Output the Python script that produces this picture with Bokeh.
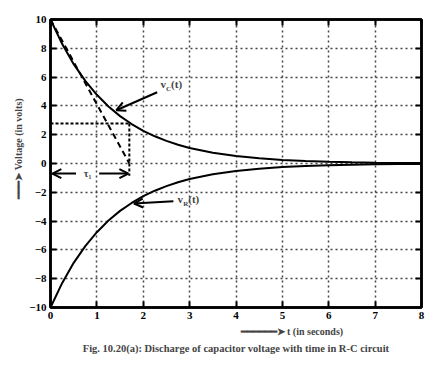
import math
from bokeh.plotting import figure
from bokeh.models import (FixedTicker, LinearAxis, Label, Arrow, OpenHead, ColumnDataSource, Title)
from bokeh.embed import file_html
from bokeh.resources import INLINE

# ---- data ----
t_vals = [0, 0.25, 0.5, 0.75, 1.0, 1.25, 1.5, 1.75, 2.0, 2.25, 2.5, 2.75, 3.0,
          3.5, 4.0, 4.5, 5.0, 5.5, 6.0, 6.5, 7.0, 7.5, 8.0]
vc_vals = [10, 8.31, 6.90, 5.74, 4.77, 3.96, 3.29, 2.74, 2.27, 1.89, 1.57, 1.30, 1.08,
           0.75, 0.52, 0.36, 0.25, 0.17, 0.12, 0.08, 0.056, 0.039, 0.027]
vr_vals = [-10, -8.31, -6.90, -5.74, -4.77, -3.96, -3.29, -2.74, -2.27, -1.89, -1.57, -1.30, -1.08,
           -0.75, -0.52, -0.36, -0.25, -0.17, -0.12, -0.08, -0.056, -0.039, -0.027]
x_ticks = [0, 1, 2, 3, 4, 5, 6, 7, 8]
y_ticks = [-10, -8, -6, -4, -2, 0, 2, 4, 6, 8, 10]
tau_t = 1.7
tau_v = 2.78
tangent_t = [0, 1.7]
tangent_v = [10, 0]

FONT = "Liberation Serif"

p = figure(width=438, height=364, x_range=(0, 8), y_range=(-10, 10),
           output_backend="svg", toolbar_location=None,
           min_border_left=50, min_border_right=17, min_border_top=19, min_border_bottom=57)
p.background_fill_color = "white"
p.border_fill_color = "white"
p.outline_line_color = "black"
p.outline_line_width = 2.5

def style_axis(ax, show_labels=True):
    ax.axis_line_width = 2.5
    ax.axis_line_color = "black"
    ax.major_tick_in = 6
    ax.major_tick_out = 0
    ax.major_tick_line_width = 2
    ax.minor_tick_line_color = None
    ax.major_label_text_font = FONT
    ax.major_label_text_font_style = "bold"
    if show_labels:
        ax.major_label_text_font_size = "11px"
        ax.major_label_text_color = "black"
        ax.major_label_standoff = 5
    else:
        ax.major_label_text_font_size = "7px"
        ax.major_label_text_color = None
        ax.major_label_standoff = 0

p.xaxis.ticker = FixedTicker(ticks=x_ticks)
p.yaxis.ticker = FixedTicker(ticks=y_ticks)
style_axis(p.xaxis[0])
style_axis(p.yaxis[0])
p.xaxis[0].major_label_standoff = 4
p.yaxis[0].major_label_standoff = 4

rax = LinearAxis(ticker=FixedTicker(ticks=y_ticks))
style_axis(rax, False)
p.add_layout(rax, "right")
tax = LinearAxis(ticker=FixedTicker(ticks=x_ticks))
style_axis(tax, False)
p.add_layout(tax, "above")

p.xgrid.ticker = FixedTicker(ticks=x_ticks)
p.ygrid.ticker = FixedTicker(ticks=y_ticks)
for g in (p.xgrid[0], p.ygrid[0]):
    g.grid_line_color = "#444444"
    g.grid_line_dash = "2 3"
    g.grid_line_width = 1.5

src = ColumnDataSource(dict(t=t_vals, vc=vc_vals, vr=vr_vals))
p.line("t", "vc", source=src, line_color="black", line_width=2)
p.line("t", "vr", source=src, line_color="black", line_width=2)

# tangent and tau construction
p.line(tangent_t, tangent_v, line_color="black", line_width=2, line_dash="6 4")
p.line([0, tau_t], [tau_v, tau_v], line_color="black", line_width=2, line_dash="3 2")
p.line([tau_t, tau_t], [tau_v, -0.85], line_color="black", line_width=2, line_dash="3 2")

def arrow(x0, y0, x1, y1, size=9):
    p.add_layout(Arrow(x_start=x0, y_start=y0, x_end=x1, y_end=y1,
                       line_color="black", line_width=2,
                       end=OpenHead(size=size, line_width=2, line_color="black")))

# tau double arrow
arrow(0.55, -0.7, 0.04, -0.7)
arrow(1.05, -0.7, 1.68, -0.7)
p.add_layout(Label(x=0.8, y=-0.7, text="τ₁", text_font=FONT, text_font_style="bold",
                   text_font_size="10px", text_align="center", text_baseline="middle"))

# vC(t) annotation
arrow(2.3, 4.95, 1.42, 3.7)
p.add_layout(Label(x=2.37, y=5.5, text="v", text_font=FONT, text_font_style="bold",
                   text_font_size="11px", text_baseline="middle"))
p.add_layout(Label(x=2.49, y=5.15, text="C", text_font=FONT, text_font_style="bold",
                   text_font_size="7px", text_baseline="middle"))
p.add_layout(Label(x=2.6, y=5.5, text="(t)", text_font=FONT, text_font_style="bold",
                   text_font_size="11px", text_baseline="middle"))

# vR(t) annotation
arrow(2.65, -2.62, 1.8, -2.78)
p.add_layout(Label(x=2.74, y=-2.45, text="v", text_font=FONT, text_font_style="bold",
                   text_font_size="11px", text_baseline="middle"))
p.add_layout(Label(x=2.86, y=-2.8, text="R", text_font=FONT, text_font_style="bold",
                   text_font_size="7px", text_baseline="middle"))
p.add_layout(Label(x=2.97, y=-2.45, text="(t)", text_font=FONT, text_font_style="bold",
                   text_font_size="11px", text_baseline="middle"))

# x axis label (as a title below the axis)
p.add_layout(Title(text="━━━━━━➤ t (in seconds)", align="left", offset=190,
                   text_font=FONT, text_font_style="bold", text_font_size="10px",
                   standoff=5), "below")
# caption
p.add_layout(Title(text="Fig. 10.20(a): Discharge of capacitor voltage with time in R-C circuit",
                   align="center", text_font=FONT, text_font_style="bold", text_font_size="10.5px",
                   standoff=3), "below")
# y axis label
p.add_layout(Title(text="━━━➤ Voltage (in volts)", align="left", offset=109,
                   text_font=FONT, text_font_style="bold", text_font_size="10px",
                   standoff=6), "left")

open("out.html", "w").write(file_html(p, INLINE))
